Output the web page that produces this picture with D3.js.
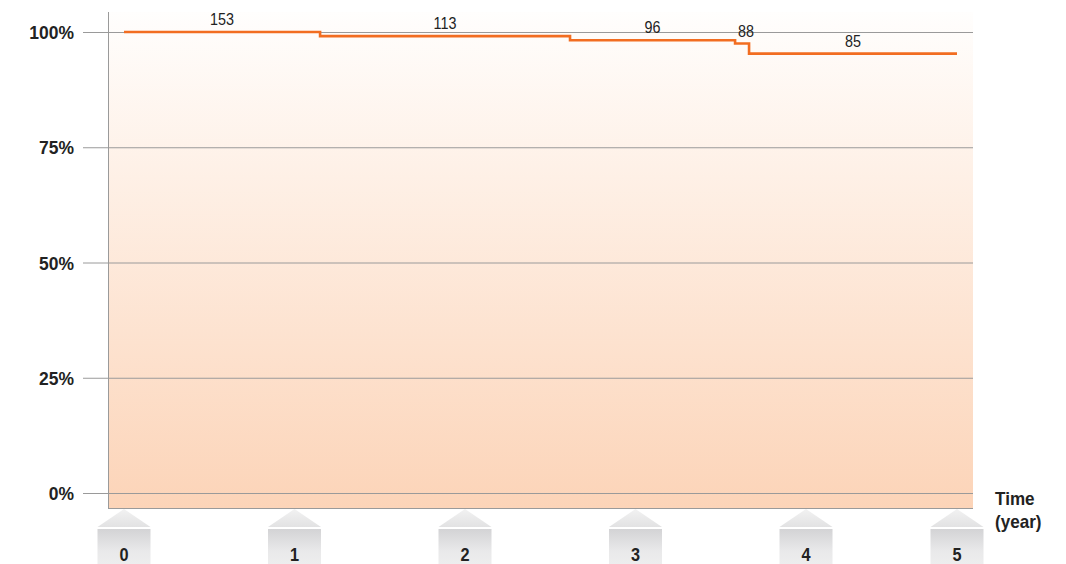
<!DOCTYPE html>
<html>
<head>
<meta charset="utf-8">
<script src="https://cdn.jsdelivr.net/npm/d3@7"></script>
<style>
  html, body { margin: 0; padding: 0; background: #fff; }
  svg { display: block; }
  .num { font-family: "Liberation Sans", Arial, sans-serif; }
  .bold { font-family: "Liberation Sans", Arial, sans-serif; font-weight: bold; }
</style>
</head>
<body>
<svg id="chart" width="1066" height="564"></svg>
<script>
// ---- data ----
const stepTimes = [0, 1.15, 2.616, 3.584, 3.666, 5];   // segment boundaries (years)
const survival  = [100, 99.1, 98.2, 97.5, 95.3];        // % for each segment
const atRisk    = [153, 113, 96, 88, 85];               // numbers shown above segments
const xTicks    = [0, 1, 2, 3, 4, 5];
const yTicks    = [0, 25, 50, 75, 100];
const yTickLabels = ["0%", "25%", "50%", "75%", "100%"];
const xTitle    = ["Time", "(year)"];

// ---- layout ----
const svg = d3.select("#chart");
const plotLeft = 108, plotRight = 973, plotTop = 12, plotBottom = 508;

const x = d3.scaleLinear().domain([0, 4, 5]).range([124, 806, 957]);
const y = d3.scaleLinear().domain([0, 100]).range([493, 32]);

const defs = svg.append("defs");
const bg = defs.append("linearGradient").attr("id", "bgGrad")
  .attr("x1", 0).attr("y1", 0).attr("x2", 0).attr("y2", 1);
bg.append("stop").attr("offset", "0%").attr("stop-color", "#fffefd");
bg.append("stop").attr("offset", "100%").attr("stop-color", "#fcd4b8");

const triG = defs.append("linearGradient").attr("id", "triGrad")
  .attr("x1", 0).attr("y1", 0).attr("x2", 0).attr("y2", 1);
triG.append("stop").attr("offset", "0%").attr("stop-color", "#f2f2f2");
triG.append("stop").attr("offset", "100%").attr("stop-color", "#e2e2e3");

const boxG = defs.append("linearGradient").attr("id", "boxGrad")
  .attr("x1", 0).attr("y1", 0).attr("x2", 0).attr("y2", 1);
boxG.append("stop").attr("offset", "0%").attr("stop-color", "#d3d3d5");
boxG.append("stop").attr("offset", "55%").attr("stop-color", "#e9e9ea");
boxG.append("stop").attr("offset", "100%").attr("stop-color", "#efefef");

// background fill
svg.append("rect")
  .attr("x", plotLeft).attr("y", plotTop)
  .attr("width", plotRight - plotLeft).attr("height", plotBottom - plotTop)
  .attr("fill", "url(#bgGrad)");

// gridlines
svg.append("g").selectAll("line").data(yTicks).join("line")
  .attr("x1", 83).attr("x2", plotRight)
  .attr("y1", d => y(d) + 0.5).attr("y2", d => y(d) + 0.5)
  .attr("stroke", "#9a9a9a").attr("stroke-width", 1);

// axis lines
svg.append("line").attr("x1", plotLeft + 0.5).attr("x2", plotLeft + 0.5)
  .attr("y1", plotTop).attr("y2", plotBottom)
  .attr("stroke", "#9a9a9a").attr("stroke-width", 1);
svg.append("line").attr("x1", plotLeft).attr("x2", plotRight)
  .attr("y1", plotBottom + 0.5).attr("y2", plotBottom + 0.5)
  .attr("stroke", "#9a9a9a").attr("stroke-width", 1);

// y labels (condensed look)
svg.append("g").selectAll("text").data(yTicks).join("text")
  .attr("class", "bold")
  .attr("transform", d => `translate(74,${y(d) + 7}) scale(0.92,1)`)
  .attr("text-anchor", "end")
  .attr("font-size", 19).attr("fill", "#222")
  .text((d, i) => yTickLabels[i]);

// step line
const pts = [];
survival.forEach((s, i) => {
  pts.push([stepTimes[i], s]);
  pts.push([stepTimes[i + 1], s]);
});
const line = d3.line().x(d => x(d[0])).y(d => y(d[1]));
svg.append("path").datum(pts)
  .attr("d", line)
  .attr("fill", "none")
  .attr("stroke", "#f26d21")
  .attr("stroke-width", 2.6);

// at-risk numbers
svg.append("g").selectAll("text").data(atRisk).join("text")
  .attr("class", "num")
  .attr("transform", (d, i) => {
    const cx = (x(stepTimes[i]) + x(stepTimes[i + 1])) / 2 + (i === 3 ? 4 : 0);
    return `translate(${cx},${y(survival[i]) - 7}) scale(0.87,1)`;
  })
  .attr("text-anchor", "middle")
  .attr("font-size", 16.5).attr("fill", "#222")
  .text(d => d);

// x tick markers
const tg = svg.append("g").selectAll("g").data(xTicks).join("g")
  .attr("transform", d => `translate(${x(d)},0)`);
tg.append("path")
  .attr("d", "M0,509 L-26.5,527 L26.5,527 Z")
  .attr("fill", "url(#triGrad)");
tg.append("rect")
  .attr("x", -26.5).attr("y", 529).attr("width", 53).attr("height", 40)
  .attr("fill", "url(#boxGrad)");
tg.append("text")
  .attr("class", "bold")
  .attr("transform", "translate(0,561) scale(0.88,1)")
  .attr("text-anchor", "middle")
  .attr("font-size", 18.5).attr("fill", "#222")
  .text(d => d);

// x title
svg.append("text").attr("class", "bold")
  .attr("transform", "translate(995,0) scale(0.95,1)")
  .attr("font-size", 18).attr("fill", "#222")
  .selectAll("tspan").data(xTitle).join("tspan")
  .attr("x", 0).attr("y", (d, i) => 505 + i * 23)
  .text(d => d);
</script>
</body>
</html>
